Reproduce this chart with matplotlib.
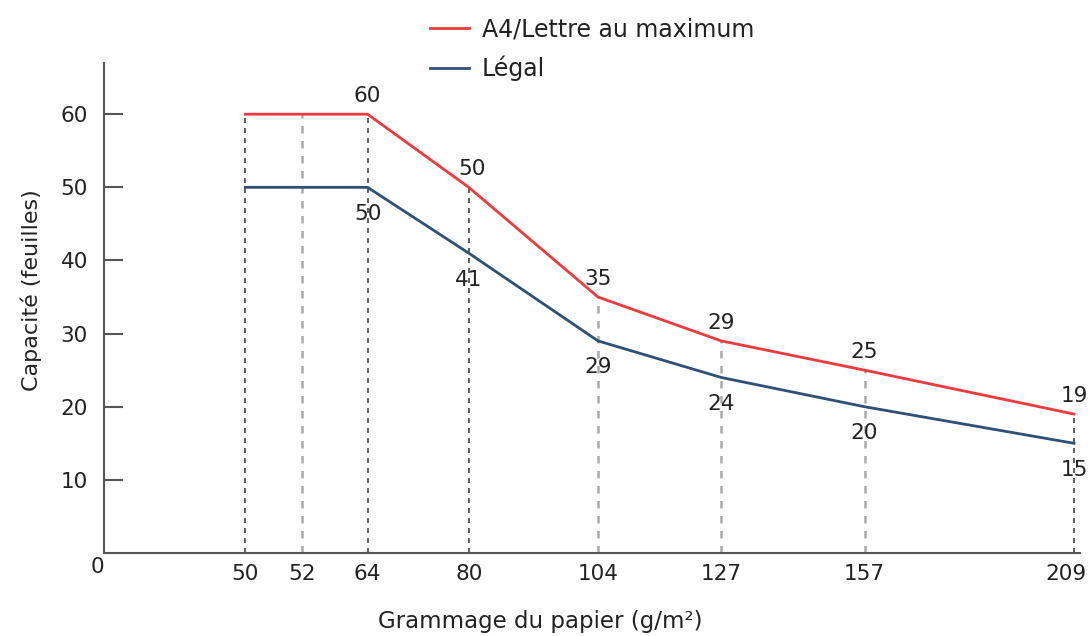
import numpy as np
import matplotlib
matplotlib.use("Agg")
import matplotlib.pyplot as plt
import matplotlib.transforms as mtransforms

plt.rcParams['font.family'] = ['DejaVu Sans']

# Data: paper weight (g/m2) vs capacity (sheets)
grammage = [50, 52, 64, 80, 104, 127, 157, 209]
a4_capacity = [60, 60, 60, 50, 35, 29, 25, 19]
legal_capacity = [50, 50, 50, 41, 29, 24, 20, 15]
a4_labels = {64: 60, 80: 50, 104: 35, 127: 29, 157: 25, 209: 19}
legal_labels = {64: 50, 80: 41, 104: 29, 127: 24, 157: 20, 209: 15}
dark_guides = [50, 64, 80, 209]

# the printed axis is not linear: map each weight onto its position on the axis
scale_in = [0, 50, 52, 64, 80, 104, 127, 157, 209, 220]
scale_out = [0, 141, 198, 263, 364, 493, 616, 759, 968, 990]

def forward(x):
    return np.interp(x, scale_in, scale_out)

def inverse(x):
    return np.interp(x, scale_out, scale_in)

red = '#ee3a3f'
blue = '#2e5077'
axis_grey = '#555555'
text_col = '#222222'
fs = 15.5

fig = plt.figure(figsize=(10.91, 6.36), dpi=100)
ax = fig.add_axes([104 / 1091, 83 / 636, 976 / 1091, 490 / 636])
ax.set_xscale('function', functions=(forward, inverse))
ax.set_xlim(0, 212)
ax.set_ylim(0, 67)

# vertical guides from the axis up to the upper curve
for g, top in zip(grammage, a4_capacity):
    if g in dark_guides:
        ax.plot([g, g], [0, top], color='#444444', lw=1.2, ls=(0, (3, 3)), zorder=1)
    else:
        ax.plot([g, g], [0, top], color='#aaaaaa', lw=1.8, ls=(0, (3, 3)), zorder=1)

ax.plot(grammage, a4_capacity, color=red, lw=2, label='A4/Lettre au maximum', zorder=3)
ax.plot(grammage, legal_capacity, color=blue, lw=2, label='Légal', zorder=3)

for g, v in a4_labels.items():
    ax.annotate(str(v), (g, v), xytext=(2 if g == 80 else 0, 13), textcoords='offset points',
                ha='center', va='center', fontsize=fs, color=text_col)
for g, v in legal_labels.items():
    ax.annotate(str(v), (g, v), xytext=(0, -19), textcoords='offset points',
                ha='center', va='center', fontsize=fs, color=text_col)

ax.spines['top'].set_visible(False)
ax.spines['right'].set_visible(False)
for s in ('left', 'bottom'):
    ax.spines[s].set_color(axis_grey)
    ax.spines[s].set_linewidth(1.5)

ax.set_yticks([10, 20, 30, 40, 50, 60])
ax.tick_params(axis='y', direction='in', length=14, width=1.5, color=axis_grey,
               pad=11.5, labelsize=fs, labelcolor=text_col)
ax.set_xticks(grammage)
ax.set_xticklabels([str(g) for g in grammage])
ax.tick_params(axis='x', length=0, pad=8, labelsize=fs, labelcolor=text_col)
# last label sits a little left so it stays inside the figure
last = ax.get_xticklabels()[-1]
last.set_transform(last.get_transform() + mtransforms.ScaledTranslation(-8 / 100, 0, fig.dpi_scale_trans))

ax.annotate('0', (0, 0), xytext=(-5, -10), textcoords='offset points',
            ha='center', va='center', fontsize=fs, color=text_col)

ax.set_xlabel('Grammage du papier (g/m²)', fontsize=16.5, color=text_col)
ax.xaxis.set_label_coords(0.447, -0.116)
ax.set_ylabel('Capacité (feuilles)', fontsize=16, color=text_col)
ax.yaxis.set_label_coords(-0.064, 0.537)

fig.legend(loc='upper left', bbox_to_anchor=(412 / 1091, 1.0), frameon=False,
           fontsize=17, handlelength=1.65, handletextpad=0.55, labelspacing=0.6,
           borderaxespad=0.35, labelcolor=text_col)

fig.savefig('out.png', dpi=100)
